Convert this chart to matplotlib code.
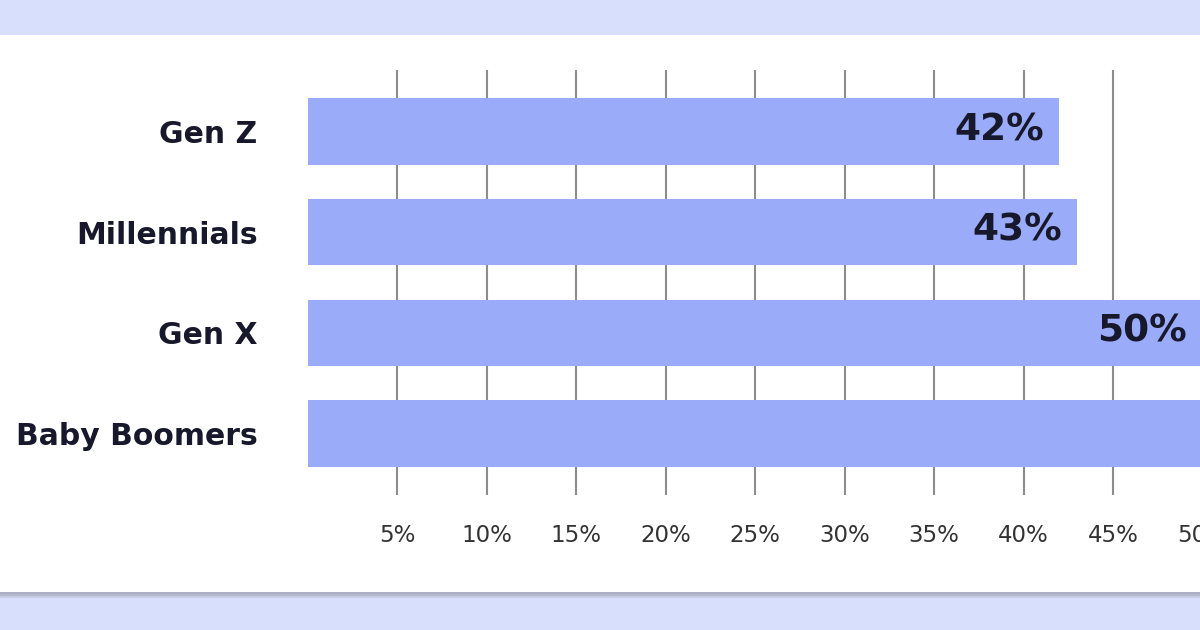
import matplotlib.pyplot as plt
from matplotlib.patches import Rectangle

plt.rcParams['font.family'] = ['DejaVu Sans']

generations = ["Gen Z", "Millennials", "Gen X", "Baby Boomers"]
shares = [42, 43, 50, 58]
tick_values = [5, 10, 15, 20, 25, 30, 35, 40, 45, 50]
tick_labels = ["5%", "10%", "15%", "20%", "25%", "30%", "35%", "40%", "45%", "50%"]

BAR = "#9aabf9"
BAND = "#d8dffc"
NAVY = "#17182b"

W, H = 1200, 630
fig = plt.figure(figsize=(12, 6.3), dpi=100, facecolor=BAND)

# white card with a soft shadow under it
for off, col in [(6, "#c9cee6"), (4, "#b4b9cf"), (2, "#a9aec4")]:
    fig.patches.append(Rectangle((0, (630 - 592 - off) / H), 1, off / H,
                                 transform=fig.transFigure, facecolor=col,
                                 edgecolor="none", zorder=-2))
fig.patches.append(Rectangle((0, 38 / H), 1, (595 - 38) / H,
                             transform=fig.transFigure, facecolor="white",
                             edgecolor="none", zorder=-1))

# 1% is about 17.9 px, axes start at x=307.5 and run off the right edge
ax = fig.add_axes([307.5 / W, 135 / H, 60 * 17.9 / W, 425 / H])
ax.set_facecolor("none")
ax.set_zorder(1)

y = range(len(generations))
ax.barh(y, shares, height=0.66, color=BAR, zorder=2)

for i, v in enumerate(shares):
    ax.annotate(f"{v}%", xy=(v, i), xytext=(-11, 1), textcoords="offset points",
                ha="right", va="center", fontsize=27, fontweight="bold",
                color=NAVY, zorder=3)

ax.set_xlim(0, 60)
ax.set_ylim(3.61, -0.61)
ax.set_yticks(list(y))
ax.set_yticklabels(generations, fontsize=21.5, fontweight="bold", color=NAVY,
                   va="center_baseline")
ax.set_xticks(tick_values)
ax.set_xticklabels(tick_labels, fontsize=16.5, color="#333333")
ax.tick_params(axis="y", length=0, pad=36)
ax.tick_params(axis="x", length=0, pad=21)

ax.grid(axis="x", color="#8c8c8c", linewidth=1.5)
ax.set_axisbelow(True)
for s in ax.spines.values():
    s.set_visible(False)

fig.savefig("out.png", dpi=100, facecolor=BAND)
